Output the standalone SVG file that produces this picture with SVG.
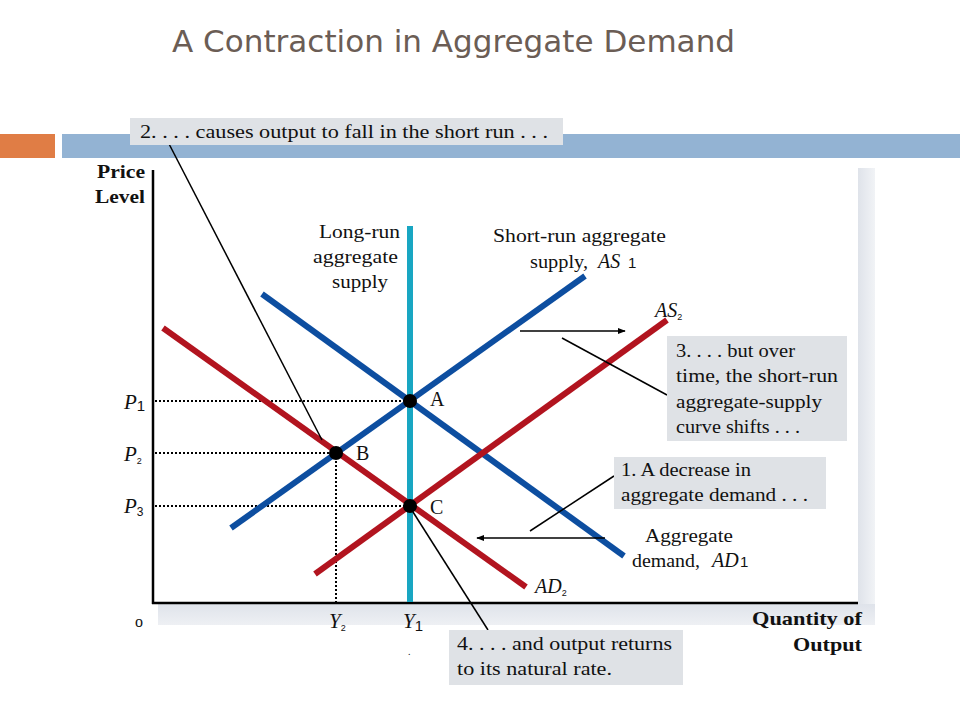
<svg xmlns="http://www.w3.org/2000/svg" width="960" height="720" viewBox="0 0 960 720">
<defs>
<style>
.t{font-family:"Liberation Serif","DejaVu Serif",serif;font-size:19px;fill:#111}
.b{font-family:"Liberation Serif","DejaVu Serif",serif;font-size:19px;font-weight:bold;fill:#111}
.i{font-style:italic}
.s{font-family:"Liberation Sans",Arial,sans-serif;font-style:normal}
.box{fill:#dfe2e6}
.blue{stroke:#0d4ea0;stroke-width:6;fill:none}
.red{stroke:#b2141f;stroke-width:6;fill:none}
.dot{stroke:#000;stroke-width:2;stroke-dasharray:2 2;fill:none}
.lead{stroke:#000;stroke-width:1.5;fill:none}
.pt{fill:#000}
</style>
<marker id="ah" viewBox="0 0 10 10" refX="9" refY="5" markerWidth="8" markerHeight="8" orient="auto-start-reverse" markerUnits="userSpaceOnUse">
<path d="M0,1 L10,5 L0,9 z" fill="#000"/>
</marker>
<linearGradient id="sh" x1="0" y1="0" x2="0" y2="1"><stop offset="0" stop-color="#dfe3ea"/><stop offset="1" stop-color="#eef0f4"/></linearGradient>
<linearGradient id="shr" x1="0" y1="0" x2="1" y2="0"><stop offset="0" stop-color="#dfe3ea"/><stop offset="1" stop-color="#f1f3f6"/></linearGradient>
</defs>
<rect width="960" height="720" fill="#fff"/>
<g id="header">
<text x="172" y="52" font-family="'DejaVu Sans','Liberation Sans',sans-serif" font-size="31" fill="#6b5d55" textLength="563" lengthAdjust="spacingAndGlyphs">A Contraction in Aggregate Demand</text>
<rect x="0" y="134" width="55" height="24" fill="#e07d45"/>
<rect x="62" y="134" width="898" height="24" fill="#93b3d3"/>
</g>
<g id="plot-frame">
<rect x="858" y="168" width="17" height="457" fill="url(#shr)"/>
<rect x="158" y="604" width="717" height="21" fill="url(#sh)"/>
<line x1="153" y1="170" x2="153" y2="604" stroke="#000" stroke-width="2.5"/>
<line x1="152" y1="603" x2="858" y2="603" stroke="#000" stroke-width="2.5"/>
</g>
<g id="guides">
<line class="dot" x1="155" y1="401" x2="410" y2="401"/>
<line class="dot" x1="155" y1="453" x2="336" y2="453"/>
<line class="dot" x1="155" y1="506" x2="410" y2="506"/>
<line class="dot" x1="336" y1="453" x2="336" y2="602"/>
</g>
<g id="curves">
<line id="lras" x1="410" y1="226" x2="410" y2="602" stroke="#18a6c2" stroke-width="6"/>
<line id="as1" class="blue" x1="231" y1="528" x2="585" y2="276"/>
<line id="ad1" class="blue" x1="262" y1="294" x2="624" y2="556"/>
<line id="as2" class="red" x1="315" y1="574" x2="667" y2="320"/>
<line id="ad2" class="red" x1="163" y1="328" x2="526" y2="587"/>
</g>
<g id="connectors">
<line class="lead" x1="520" y1="331" x2="625" y2="331" marker-end="url(#ah)"/>
<line class="lead" x1="605" y1="538" x2="477" y2="538" marker-end="url(#ah)"/>
<line class="lead" x1="167" y1="140" x2="322" y2="440"/>
<line class="lead" x1="562" y1="338" x2="667" y2="395"/>
<line class="lead" x1="530" y1="531" x2="614" y2="476"/>
<line class="lead" x1="413" y1="512" x2="488" y2="630"/>
</g>
<g id="pointA"><circle class="pt" cx="410" cy="401" r="7"/><text class="t" x="430" y="406" style="font-size:20px">A</text></g>
<g id="pointB"><circle class="pt" cx="336" cy="453" r="7"/><text class="t" x="356" y="460" style="font-size:20px">B</text></g>
<g id="pointC"><circle class="pt" cx="410" cy="506" r="7"/><text class="t" x="430" y="514" style="font-size:20px">C</text></g>
<g id="axis-labels">
<text class="b" x="145" y="178" text-anchor="end" textLength="48" lengthAdjust="spacingAndGlyphs">Price</text>
<text class="b" x="145" y="203" text-anchor="end" textLength="50" lengthAdjust="spacingAndGlyphs">Level</text>
<text class="b" x="862" y="625" text-anchor="end" textLength="110" lengthAdjust="spacingAndGlyphs">Quantity of</text>
<text class="b" x="862" y="651" text-anchor="end" textLength="69" lengthAdjust="spacingAndGlyphs">Output</text>
<text class="t" x="135" y="627" style="font-size:16px">o</text>
<text class="t i" x="124" y="409" style="font-size:21px">P<tspan class="s" style="font-size:15px" dy="2">1</tspan></text>
<text class="t i" x="124" y="461" style="font-size:21px">P<tspan class="s" style="font-size:9px" dy="3">2</tspan></text>
<text class="t i" x="124" y="513" style="font-size:21px">P<tspan class="s" style="font-size:12px" dy="3">3</tspan></text>
<text class="t i" x="329" y="628" style="font-size:21px">Y<tspan class="s" style="font-size:9px" dy="3">2</tspan></text>
<text class="t i" x="403" y="628" style="font-size:21px">Y<tspan class="s" style="font-size:15px" dy="3">1</tspan></text>
<text class="t" x="408" y="655" style="font-size:10px">.</text>
</g>
<g id="curve-labels">
<text class="t" x="319" y="238" textLength="81" lengthAdjust="spacingAndGlyphs">Long-run</text>
<text class="t" x="313" y="263" textLength="85" lengthAdjust="spacingAndGlyphs">aggregate</text>
<text class="t" x="332" y="288" textLength="56" lengthAdjust="spacingAndGlyphs">supply</text>
<text class="t" x="493" y="242" textLength="173" lengthAdjust="spacingAndGlyphs">Short-run aggregate</text>
<text class="t" x="530" y="268" textLength="58" lengthAdjust="spacingAndGlyphs">supply,</text>
<text class="t i" x="598" y="268" style="font-size:20px">AS<tspan class="s" x="628" style="font-size:15px">1</tspan></text>
<text class="t i" x="655" y="317" style="font-size:20px">AS<tspan class="s" style="font-size:9px" dy="3">2</tspan></text>
<text class="t" x="645" y="542" textLength="88" lengthAdjust="spacingAndGlyphs">Aggregate</text>
<text class="t" x="632" y="567" textLength="68" lengthAdjust="spacingAndGlyphs">demand,</text>
<text class="t i" x="712" y="567" style="font-size:20px">AD<tspan class="s" x="740" style="font-size:15px">1</tspan></text>
<text class="t i" x="535" y="593" style="font-size:20px">AD<tspan class="s" style="font-size:9px" dy="3">2</tspan></text>
</g>
<g id="note2">
<rect class="box" x="130" y="118" width="433" height="27"/>
<text class="t" x="140" y="138" textLength="408" lengthAdjust="spacingAndGlyphs">2. . . . causes output to fall in the short run . . .</text>
</g>
<g id="note3">
<rect class="box" x="667" y="336" width="180" height="105"/>
<text class="t" x="676" y="357" textLength="119" lengthAdjust="spacingAndGlyphs">3. . . . but over</text>
<text class="t" x="676" y="382" textLength="162" lengthAdjust="spacingAndGlyphs">time, the short-run</text>
<text class="t" x="676" y="408" textLength="146" lengthAdjust="spacingAndGlyphs">aggregate-supply</text>
<text class="t" x="676" y="433" textLength="124" lengthAdjust="spacingAndGlyphs">curve shifts . . .</text>
</g>
<g id="note1">
<rect class="box" x="614" y="457" width="212" height="52"/>
<text class="t" x="621" y="476" textLength="130" lengthAdjust="spacingAndGlyphs">1. A decrease in</text>
<text class="t" x="621" y="501" textLength="187" lengthAdjust="spacingAndGlyphs">aggregate demand . . .</text>
</g>
<g id="note4">
<rect class="box" x="449" y="630" width="234" height="55"/>
<text class="t" x="457" y="650" textLength="215" lengthAdjust="spacingAndGlyphs">4. . . . and output returns</text>
<text class="t" x="457" y="675" textLength="155" lengthAdjust="spacingAndGlyphs">to its natural rate.</text>
</g>
</svg>
